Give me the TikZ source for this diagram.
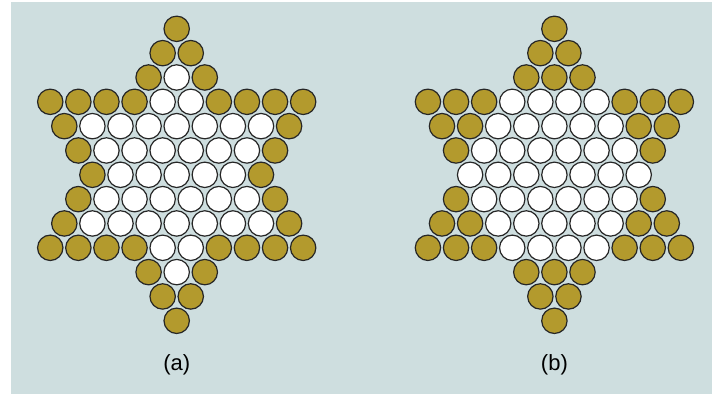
\documentclass[tikz,border=0pt]{standalone}
\usepackage{fontspec}
\setmainfont{Liberation Sans}

\definecolor{bgblue}{RGB}{206,222,223}
\definecolor{pegGold}{RGB}{179,154,45}
\definecolor{rimGray}{RGB}{38,38,38}

% rows of each star, top to bottom: pegs per row / number of places
\newcommand\starA{{p}/1, {p,p}/2, {p,h,p}/3,
  {p,p,p,p,h,h,p,p,p,p}/10, {p,h,h,h,h,h,h,h,p}/9, {p,h,h,h,h,h,h,p}/8,
  {p,h,h,h,h,h,p}/7,
  {p,h,h,h,h,h,h,p}/8, {p,h,h,h,h,h,h,h,p}/9, {p,p,p,p,h,h,p,p,p,p}/10,
  {p,h,p}/3, {p,p}/2, {p}/1}
\newcommand\starB{{p}/1, {p,p}/2, {p,p,p}/3,
  {p,p,p,h,h,h,h,p,p,p}/10, {p,p,h,h,h,h,h,p,p}/9, {p,h,h,h,h,h,h,p}/8,
  {h,h,h,h,h,h,h}/7,
  {p,h,h,h,h,h,h,p}/8, {p,p,h,h,h,h,h,p,p}/9, {p,p,p,h,h,h,h,p,p,p}/10,
  {p,p,p}/3, {p,p}/2, {p}/1}

\begin{document}
\begin{tikzpicture}[x=1pt, y=-1pt,
  p/.style={draw=rimGray, line width=1.2pt, circle, minimum size=25.4pt, inner sep=0pt, fill=pegGold},
  h/.style={p, fill=white},
  caption/.style={font=\fontsize{22}{26}\selectfont, anchor=base}]

\useasboundingbox (0,0) rectangle (712,394);
\fill[bgblue] (11,2) rectangle (712,394);

% star (a)
\foreach \row/\n [count=\i from 0] in \starA{
  \foreach \c [count=\j] in \row{
    \node[\c] (a-\i-\j) at ({176.7+(\j-(\n+1)/2)*28.1}, {174.8+(\i-6)*24.33}) {};
  }
}
% star (b)
\foreach \row/\n [count=\i from 0] in \starB{
  \foreach \c [count=\j] in \row{
    \node[\c] (b-\i-\j) at ({554.4+(\j-(\n+1)/2)*28.1}, {174.8+(\i-6)*24.33}) {};
  }
}

\node[caption] (capa) at (176.7,370) {(a)};
\node[caption] (capb) at (554.4,370) {(b)};

\end{tikzpicture}
\end{document}
